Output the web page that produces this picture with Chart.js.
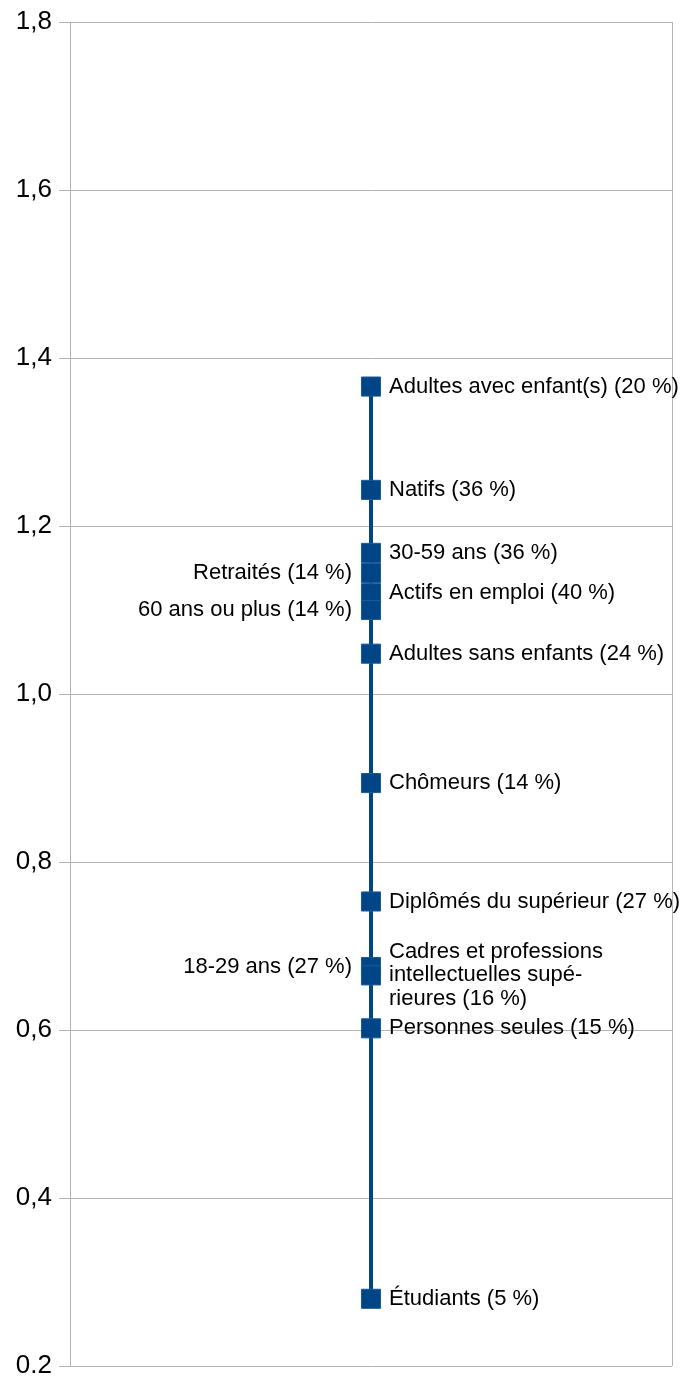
<!DOCTYPE html>
<html>
<head>
<meta charset="utf-8">
<script src="https://cdn.jsdelivr.net/npm/chart.js@4.4.1/dist/chart.umd.min.js"></script>
<style>
  html, body { margin: 0; padding: 0; background: #fff; }
  #wrap { width: 692px; height: 1376px; }
</style>
</head>
<body>
<div id="wrap"><canvas id="c" width="692" height="1376"></canvas></div>
<script>
// ── data ─────────────────────────────────────────────────────
const groups = [
  'Adultes avec enfant(s)',
  'Natifs',
  '30-59 ans',
  'Retraités',
  'Actifs en emploi',
  '60 ans ou plus',
  'Adultes sans enfants',
  'Chômeurs',
  'Diplômés du supérieur',
  '18-29 ans',
  'Cadres et professions\nintellectuelles supé-\nrieures',
  'Personnes seules',
  'Étudiants'
];
const shares = [20, 36, 36, 14, 40, 14, 24, 14, 27, 27, 16, 15, 5];
const ratios = [1.366, 1.243, 1.168, 1.144, 1.120, 1.100, 1.048, 0.894, 0.753, 0.675, 0.665, 0.602, 0.280];
const yTickValues = [0.2, 0.4, 0.6, 0.8, 1.0, 1.2, 1.4, 1.6, 1.8];
const yTickLabels = ['0.2', '0,4', '0,6', '0,8', '1,0', '1,2', '1,4', '1,6', '1,8'];
const labelsOnLeft = ['Retraités', '60 ans ou plus', '18-29 ans'];

const BLUE = '#004586';
const GRID = '#b3b3b3';
const FONT = '"Liberation Sans", Arial, sans-serif';

// labels drawn beside each square
const pointLabels = {
  id: 'pointLabels',
  afterDatasetsDraw(chart) {
    const ctx = chart.ctx;
    const meta = chart.getDatasetMeta(0);
    ctx.save();
    ctx.font = '22px ' + FONT;
    ctx.fillStyle = '#000';
    ctx.textBaseline = 'middle';
    meta.data.forEach((pt, i) => {
      const lines = (groups[i] + ' (' + shares[i] + ' %)').split('\n');
      const left = labelsOnLeft.includes(groups[i]);
      ctx.textAlign = left ? 'right' : 'left';
      const x = left ? pt.x - 19 : pt.x + 18;
      const lh = 23.5;
      const y0 = pt.y - (lines.length - 1) * lh / 2;
      lines.forEach((l, k) => ctx.fillText(l, x, y0 + k * lh));
    });
    ctx.restore();
  }
};

new Chart(document.getElementById('c'), {
  type: 'line',
  data: {
    datasets: [{
      data: ratios.map(v => ({ x: 1, y: v })),
      borderColor: BLUE,
      borderWidth: 4,
      backgroundColor: BLUE,
      pointStyle: 'rect',
      pointRadius: 13.5,
      pointBorderWidth: 1,
      pointBorderColor: '#1d5a98',
      pointBackgroundColor: BLUE,
      tension: 0
    }]
  },
  options: {
    responsive: false,
    animation: false,
    layout: { autoPadding: false, padding: { left: 0, right: 20, top: 22, bottom: 10 } },
    plugins: { legend: { display: false }, tooltip: { enabled: false } },
    scales: {
      x: {
        type: 'linear', min: 0, max: 2,
        afterBuildTicks: axis => { axis.ticks = [{ value: 0 }, { value: 2 }]; },
        ticks: { display: false },
        grid: { color: GRID, drawTicks: false, lineWidth: 1 },
        border: { display: false },
        afterFit: s => { s.height = 0; }
      },
      y: {
        min: 0.2, max: 1.8,
        afterBuildTicks: axis => { axis.ticks = yTickValues.map(v => ({ value: v })); },
        ticks: {
          callback: (v, i) => yTickLabels[i],
          color: '#000',
          font: { family: FONT, size: 26 },
          padding: 7
        },
        grid: { color: GRID, tickLength: 11, tickColor: GRID },
        border: { display: true, color: GRID },
        afterFit: s => { s.width = 70; s.paddingTop = 0; s.paddingBottom = 0; }
      }
    }
  },
  plugins: [pointLabels]
});
</script>
</body>
</html>
